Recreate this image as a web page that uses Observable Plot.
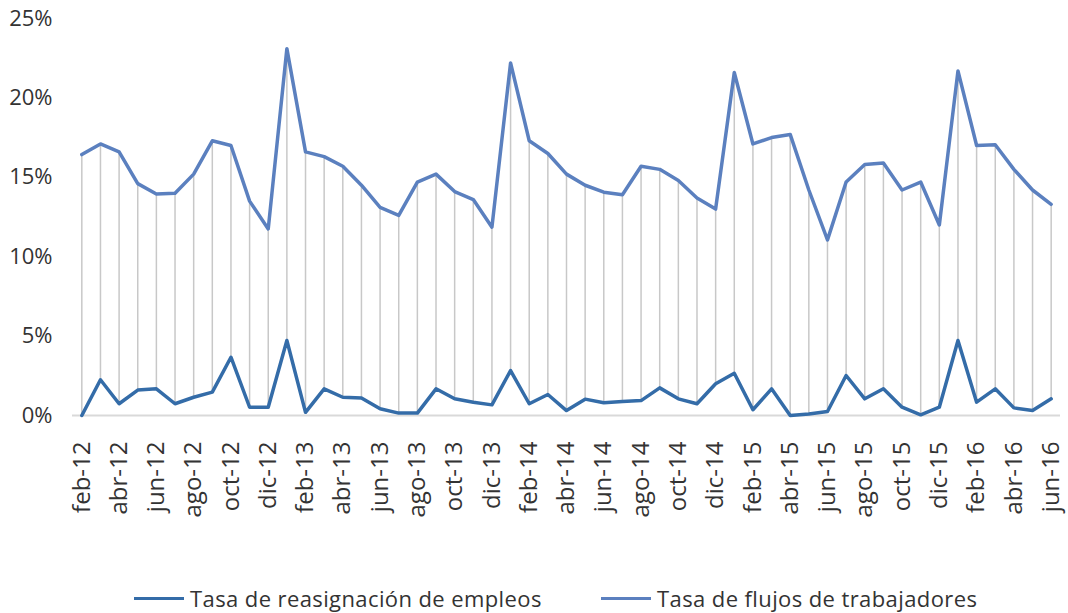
<!DOCTYPE html>
<html>
<head>
<meta charset="utf-8">
<script src="https://cdn.jsdelivr.net/npm/d3@7"></script>
<script src="https://cdn.jsdelivr.net/npm/@observablehq/plot@0.6"></script>
<style>
  html, body { margin: 0; padding: 0; background: #fff; }
  #wrap { position: relative; width: 1068px; height: 613px; font-family: "Open Sans", Lato, sans-serif; color: #333; }
  #legend { position: absolute; top: 583px; left: 0; width: 1068px; height: 30px; font-size: 22px; letter-spacing: 0.4px; }
  .item { position: absolute; top: 0; display: flex; align-items: center; white-space: nowrap; }
  .swatch { width: 50px; height: 3px; margin-right: 6px; }
</style>
</head>
<body>
<div id="wrap">
  <div id="chart"></div>
  <div id="legend">
    <div class="item" style="left:134px"><span class="swatch" style="background:#346ca8"></span><span>Tasa de reasignación de empleos</span></div>
    <div class="item" style="left:601px"><span class="swatch" style="background:#5b80bf"></span><span>Tasa de flujos de trabajadores</span></div>
  </div>
</div>
<script>
const months = [
  "feb-12","mar-12","abr-12","may-12","jun-12","jul-12","ago-12","sep-12","oct-12","nov-12","dic-12",
  "ene-13","feb-13","mar-13","abr-13","may-13","jun-13","jul-13","ago-13","sep-13","oct-13","nov-13","dic-13",
  "ene-14","feb-14","mar-14","abr-14","may-14","jun-14","jul-14","ago-14","sep-14","oct-14","nov-14","dic-14",
  "ene-15","feb-15","mar-15","abr-15","may-15","jun-15","jul-15","ago-15","sep-15","oct-15","nov-15","dic-15",
  "ene-16","feb-16","mar-16","abr-16","may-16","jun-16"
];
const reasignacion = [
  0.0, 2.25, 0.74, 1.6, 1.68, 0.74, 1.15, 1.47, 3.67, 0.52, 0.52,
  4.72, 0.2, 1.68, 1.15, 1.1, 0.42, 0.15, 0.15, 1.68, 1.05, 0.84, 0.67,
  2.83, 0.74, 1.32, 0.31, 1.03, 0.8, 0.88, 0.94, 1.74, 1.05, 0.74, 2.0,
  2.66, 0.36, 1.68, 0.0, 0.1, 0.25, 2.52, 1.05, 1.68, 0.52, 0.04, 0.52,
  4.72, 0.84, 1.68, 0.48, 0.31, 1.05
];
const flujos = [
  16.43, 17.1, 16.6, 14.6, 13.95, 14.0, 15.2, 17.3, 17.0, 13.5, 11.75,
  23.1, 16.6, 16.3, 15.7, 14.5, 13.1, 12.6, 14.7, 15.2, 14.1, 13.6, 11.86,
  22.2, 17.3, 16.5, 15.2, 14.5, 14.06, 13.9, 15.7, 15.5, 14.8, 13.7, 13.0,
  21.6, 17.1, 17.5, 17.7, 14.2, 11.06, 14.7, 15.8, 15.9, 14.2, 14.7, 12.0,
  21.7, 17.0, 17.05, 15.5, 14.2, 13.3
];
const yTicks = [0, 5, 10, 15, 20, 25];
const xTickLabels = months.filter((d, i) => i % 2 === 0);

const data = months.map((m, i) => ({m, r: reasignacion[i], f: flujos[i]}));

const chart = Plot.plot({
  width: 1068,
  height: 570,
  marginLeft: 72,
  marginRight: 8,
  marginTop: 18,
  marginBottom: 155,
  style: {fontFamily: "'Open Sans', Lato, sans-serif", fontSize: "21px", color: "#333", background: "#fff"},
  x: {type: "point", domain: months, padding: 0.5, align: 0.5},
  y: {domain: [0, 25]},
  marks: [
    Plot.ruleX(data, {x: "m", y1: "r", y2: "f", stroke: "#c8c8c8", strokeWidth: 1.5}),
    Plot.ruleY([0], {stroke: "#d9d9d9", strokeWidth: 2}),
    Plot.line(data, {x: "m", y: "r", stroke: "#346ca8", strokeWidth: 3.5, strokeLinejoin: "round"}),
    Plot.line(data, {x: "m", y: "f", stroke: "#5b80bf", strokeWidth: 3.5, strokeLinejoin: "round"}),
    Plot.axisY(yTicks, {tickSize: 0, tickPadding: 20, tickFormat: d => d + "%", label: null, fontSize: 22}),
    Plot.axisX(xTickLabels, {tickSize: 0, tickPadding: 26, tickRotate: -90, label: null, fontSize: 24})
  ]
});
document.getElementById("chart").appendChild(chart);
</script>
</body>
</html>
